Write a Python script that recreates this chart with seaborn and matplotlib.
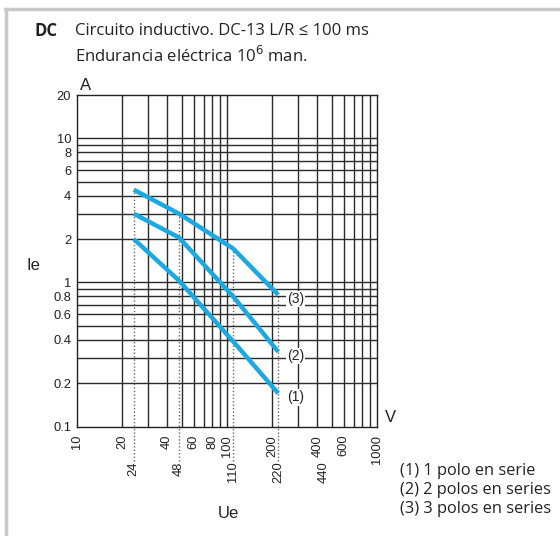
import matplotlib
matplotlib.use("Agg")
import matplotlib.pyplot as plt
import matplotlib.transforms as mtransforms
from matplotlib.lines import Line2D
import seaborn as sns
import pandas as pd
import numpy as np

# ---------------- data ----------------
ue_points = [24, 48, 110, 220]
ie_1 = [2.0, 1.03, 0.39, 0.17]   # (1) 1 polo en serie
ie_2 = [3.0, 2.05, 0.80, 0.33]   # (2) 2 polos en series
ie_3 = [4.4, 3.0, 1.72, 0.82]    # (3) 3 polos en series
series_names = ["(1)", "(2)", "(3)"]

x_grid = [20, 30, 40, 50, 60, 70, 80, 90, 100, 200, 300, 400, 500, 600, 700, 800, 900]
x_labels = {10: "10", 20: "20", 40: "40", 60: "60", 80: "80", 100: "100",
            200: "200", 400: "400", 600: "600", 1000: "1000"}
x_labels2 = [24, 48, 110, 220, 440]
y_grid = [0.2, 0.3, 0.4, 0.5, 0.6, 0.7, 0.8, 0.9, 1, 2, 3, 4, 5, 6, 7, 8, 9, 10]
y_labels = {0.1: "0.1", 0.2: "0.2", 0.4: "0.4", 0.6: "0.6", 0.8: "0.8", 1: "1",
            2: "2", 4: "4", 6: "6", 8: "8", 10: "10", 20: "20"}
legend_lines = ["(1) 1 polo en serie", "(2) 2 polos en series", "(3) 3 polos en series"]

df = pd.DataFrame({
    "Ue": ue_points * 3,
    "Ie": ie_1 + ie_2 + ie_3,
    "serie": [series_names[0]] * 4 + [series_names[1]] * 4 + [series_names[2]] * 4,
})

# ---------------- figure ----------------
sns.set_style("white")
plt.rcParams["font.family"] = ["Liberation Sans", "DejaVu Sans"]

W, H = 560, 536
fig = plt.figure(figsize=(W / 100, H / 100), dpi=100)
x0, x1, y0, y1 = 76.7, 377.0, 95.0, 426.5
ax = fig.add_axes([x0 / W, 1 - y1 / H, (x1 - x0) / W, (y1 - y0) / H])

XMIN, XMAX, YMIN, YMAX = 10, 1000, 0.1, 20
ax.set_xscale("log")
ax.set_yscale("log")
ax.set_xlim(XMIN, XMAX)
ax.set_ylim(YMIN, YMAX)

grid_kw = dict(color="#2a2a2a", lw=1.0, zorder=1)
for gx in x_grid:
    ax.axvline(gx, **grid_kw)
for gy in y_grid:
    ax.axhline(gy, **grid_kw)

blue = "#1ca8e0"
sns.lineplot(data=df, x="Ue", y="Ie", hue="serie", palette=[blue] * 3,
             legend=False, lw=3.2, ax=ax, zorder=4, solid_capstyle="butt")

# dotted reference lines from below the axis up to curve (3)
y_below = YMIN * (YMAX / YMIN) ** (-0.105)
for xv, ytop in zip(ue_points, ie_3):
    ax.plot([xv, xv], [y_below, ytop], ls=(0, (1, 1.5)), color="#666666",
            lw=1.0, clip_on=False, zorder=3)

# curve end labels
for name, vals in zip(series_names, [ie_1, ie_2, ie_3]):
    ax.annotate(name, (ue_points[-1], vals[-1]), xytext=(12.5, -3),
                textcoords="offset points", ha="center", va="center",
                fontsize=10, color="#222222", zorder=5,
                bbox=dict(boxstyle="square,pad=0.08", fc="white", ec="none"))

# ticks
ax.xaxis.set_major_locator(matplotlib.ticker.FixedLocator(list(x_labels.keys())))
ax.xaxis.set_minor_locator(matplotlib.ticker.NullLocator())
ax.set_xticklabels(list(x_labels.values()), rotation=90, fontsize=9.3, va="top")
ax.yaxis.set_major_locator(matplotlib.ticker.FixedLocator(list(y_labels.keys())))
ax.yaxis.set_minor_locator(matplotlib.ticker.NullLocator())
ax.set_yticklabels(list(y_labels.values()), fontsize=9.3)
ax.tick_params(axis="both", length=0, colors="#222222")
ax.tick_params(axis="x", pad=6)
ax.tick_params(axis="y", pad=4)

trans = mtransforms.blended_transform_factory(ax.transData, ax.transAxes)
for xv in x_labels2:
    ax.text(xv, -0.105, str(xv), transform=trans, rotation=90, ha="center",
            va="top", fontsize=9.3, color="#222222")

for s in ax.spines.values():
    s.set_color("#222222")
    s.set_linewidth(1.0)
ax.set_xlabel("")
ax.set_ylabel("")

# axis unit/labels
lab_kw = dict(fontsize=12, ha="center", va="center", color="#222222")
fig.text(86 / W, 1 - 86 / H, "A", **lab_kw)
fig.text(390 / W, 1 - 418 / H, "V", **lab_kw)
fig.text(33 / W, 1 - 266 / H, "Ie", **lab_kw)
fig.text(228 / W, 1 - 513 / H, "Ue", **lab_kw)

# title
tfont = ["Open Sans", "DejaVu Sans"]
fig.text(35 / W, 1 - 31 / H, "DC", fontsize=12, fontweight="bold", family=tfont,
         ha="left", va="center", color="#222222")
fig.text(75 / W, 1 - 31 / H, "Circuito inductivo. DC-13 L/R \u2264 100 ms", fontsize=12,
         family=tfont, ha="left", va="center", color="#222222")
fig.text(75 / W, 1 - 56 / H, "Endurancia eléctrica 10$^{6}$ man.", fontsize=12,
         family=tfont, ha="left", va="center", color="#222222")

# legend text
for i, line in enumerate(legend_lines):
    fig.text(400 / W, 1 - (471 + 19 * i) / H, line, fontsize=11.8, family=tfont,
             ha="left", va="center", color="#222222")

# frame lines (top and left)
fig.add_artist(Line2D([5 / W, 1], [1 - 9 / H, 1 - 9 / H], color="#c8c8c8", lw=2.5,
                      transform=fig.transFigure))
fig.add_artist(Line2D([6 / W, 6 / W], [0, 1 - 9 / H], color="#c8c8c8", lw=2.5,
                      transform=fig.transFigure))

fig.savefig("out.png", dpi=100, facecolor="white")
